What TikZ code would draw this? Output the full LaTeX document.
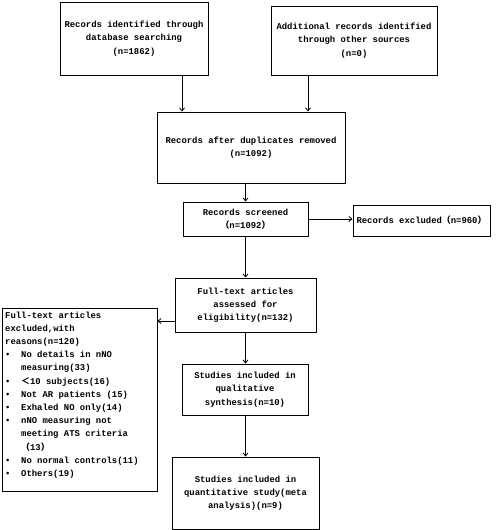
\documentclass[tikz,border=0pt]{standalone}
\usepackage{fontspec}
\setmainfont{Liberation Mono}
\newfontfamily\cjk{Noto Sans CJK SC}
\usetikzlibrary{arrows.meta}
\begin{document}
\begin{tikzpicture}[x=1pt,y=1pt,
  every node/.style={font=\fontsize{8.9}{13.2}\selectfont\bfseries},
  box/.style={draw,line width=1pt,align=center,inner sep=2pt},
  txt/.style={align=left,inner sep=0pt,anchor=north west},
  arr/.style={line width=0.8pt,-{Straight Barb[length=3pt,width=5pt]}}]
\useasboundingbox (0,0) rectangle (500,-530);
\node[box,minimum width=148pt,minimum height=73pt] (b1) at (134,-38.5) {Records identified through\\database searching\\(n=1862)};
\node[box,minimum width=166pt,minimum height=69pt] (b2) at (354,-40.5) {Additional records identified\\through other sources\\(n=0)};
\node[box,minimum width=188pt,minimum height=71pt] (b3) at (251,-147.5) {Records after duplicates removed\\(n=1092)};
\node[box,minimum width=125pt,minimum height=34pt] (b4) at (245.5,-219) {Records screened\\{\cjk （}n=1092{\cjk ）}};
\node[box,minimum width=137pt,minimum height=31pt] (ex) at (421.5,-220.5) {Records excluded{\cjk （}n=960{\cjk ）}};
\node[box,minimum width=141pt,minimum height=54pt] (b5) at (245.5,-305) {Full-text articles\\assessed for\\eligibility(n=132)};
\node[box,minimum width=155pt,minimum height=183pt] (lb) at (79.5,-399.5) {};
\node[txt] (lt) at (5,-311.5) {Full-text articles\\excluded,with\\reasons(n=120)\\
\makebox[16pt][l]{•}No details in nNO\\\hspace*{16pt}measuring(33)\\
\makebox[16pt][l]{•}{\cjk ＜}10 subjects(16)\\
\makebox[16pt][l]{•}Not AR patients (15)\\
\makebox[16pt][l]{•}Exhaled NO only(14)\\
\makebox[16pt][l]{•}nNO measuring not\\\hspace*{16pt}meeting ATS criteria\\\hspace*{16pt}{\cjk （}13{\cjk ）}\\
\makebox[16pt][l]{•}No normal controls(11)\\
\makebox[16pt][l]{•}Others(19)};
\node[box,minimum width=126pt,minimum height=51pt] (b6) at (245,-389.5) {Studies included in\\qualitative\\synthesis(n=10)};
\node[box,minimum width=147pt,minimum height=72pt] (b7) at (245.5,-493) {Studies included in\\quantitative study(meta\\analysis)(n=9)};
\draw[arr] (b1.south -| 182,0) -- (b3.north -| 182,0);
\draw[arr] (b2.south -| 308,0) -- (b3.north -| 308,0);
\draw[arr] (b3.south -| b4.north) -- (b4.north);
\draw[arr] (b4.east) -- (b4.east -| ex.west);
\draw[arr] (b4.south) -- (b5.north -| b4.south);
\draw[arr] (b5.west |- 0,-321) -- (lb.east |- 0,-321);
\draw[arr] (b5.south) -- (b6.north -| b5.south);
\draw[arr] (b6.south -| b5.south) -- (b7.north -| b5.south);
\end{tikzpicture}
\end{document}
